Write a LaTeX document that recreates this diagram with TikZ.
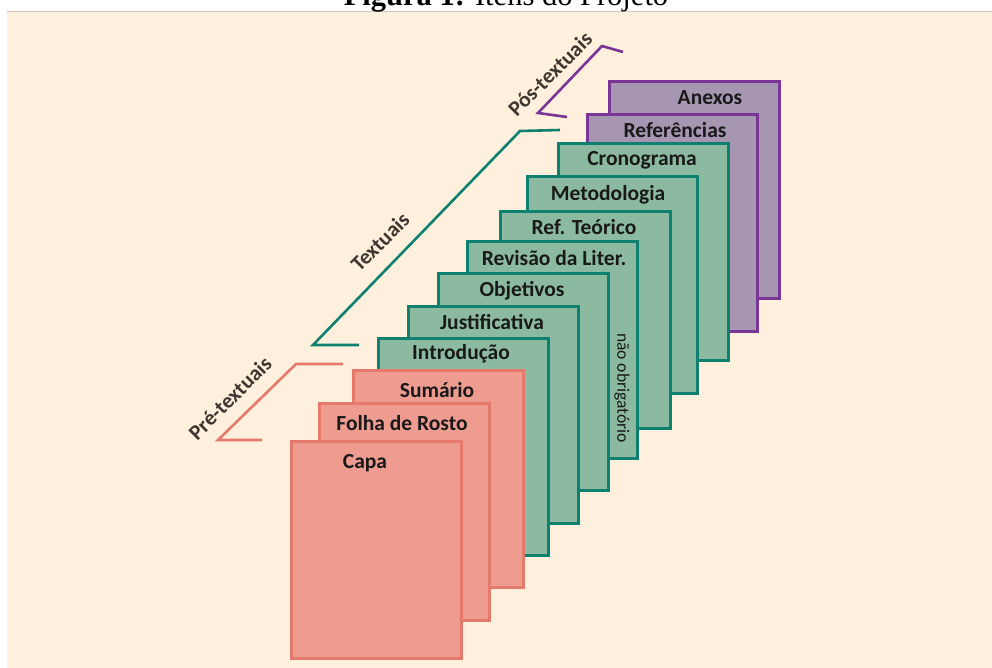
\documentclass[tikz,border=0pt]{standalone}
\usepackage{fontspec}
\setmainfont{Carlito}
\newfontfamily\titlefont{Liberation Serif}
\definecolor{bgcream}{HTML}{FEF0DC}
\definecolor{rulegrey}{HTML}{D6C6BE}
\definecolor{pinkfill}{HTML}{EF9C90}
\definecolor{pinkline}{HTML}{E4796C}
\definecolor{greenfill}{HTML}{8CBAA0}
\definecolor{greenline}{HTML}{0E8070}
\definecolor{purplefill}{HTML}{A696B2}
\definecolor{purpleline}{HTML}{7A3596}
\definecolor{labelcol}{HTML}{3E3630}
\begin{document}
\begin{tikzpicture}[x=1pt,y=-1pt,
  pg/.style={minimum width=170pt, minimum height=217pt, inner sep=0pt, line width=2.6pt, anchor=north west},
  pinkpg/.style={pg, fill=pinkfill, draw=pinkline},
  greenpg/.style={pg, fill=greenfill, draw=greenline},
  purplepg/.style={pg, fill=purplefill, draw=purpleline},
  lbl/.style={font=\bfseries\fontsize{21.5}{24}\selectfont, text=black!90, inner sep=0pt},
  grp/.style={font=\bfseries\fontsize{21.5}{24}\selectfont, text=labelcol, inner sep=0pt, rotate=45},
  bracket/.style={line width=2.6pt, line join=miter}
]
\useasboundingbox (0,0) rectangle (992,668);
\fill[white] (0,0) rectangle (992,668);
\fill[bgcream] (7,12) rectangle (992,668);
\draw[rulegrey, line width=1.5pt] (7,11.5) -- (992,11.5);
\node[anchor=base, inner sep=0pt, font=\titlefont\fontsize{30.5}{32}\selectfont] (title) at (506,6) {\textbf{Figura 1:} Itens do Projeto};

% pages, back to front
\node[purplepg] (anexos) at (608,80) {};
\node[purplepg] (refs) at (586,113) {};
\node[greenpg] (crono) at (557,142) {};
\node[greenpg] (metod) at (526,175) {};
\node[greenpg] (refteo) at (499,210) {};
\node[greenpg] (revisao) at (466,240) {};
\node[greenpg] (objet) at (437,272) {};
\node[greenpg] (justif) at (407,305) {};
\node[greenpg] (intro) at (377,337) {};
\node[pinkpg] (sumario) at (352,369) {};
\node[pinkpg] (folha) at (318,402) {};
\node[pinkpg] (capa) at (290,440) {};

% page titles
\node[lbl] (tanexos) at (710,98) {Anexos};
\node[lbl] (trefs) at (675,130) {Referências};
\node[lbl] (tcrono) at (642,160) {Cronograma};
\node[lbl] (tmetod) at (608,195) {Metodologia};
\node[lbl] (trefteo) at (584,227) {Ref. Teórico};
\node[lbl] (trevisao) at (554,258) {Revisão da Liter.};
\node[lbl] (tobjet) at (522,291) {Objetivos};
\node[lbl] (tjustif) at (492,322) {Justificativa};
\node[lbl] (tintro) at (461,354) {Introdução};
\node[lbl] (tsumario) at (437,390) {Sumário};
\node[lbl] (tfolha) at (402,423) {Folha de Rosto};
\node[lbl] (tcapa) at (365,463) {Capa};
\node[rotate=-90, inner sep=0pt, font=\fontsize{17.5}{19}\selectfont, text=black!90] (naoobr) at (622,388) {não obrigatório};

% group brackets
\coordinate (pre1) at (262,440);
\coordinate (pre2) at (218,440);
\coordinate (pre3) at (296,364);
\coordinate (pre4) at (343,364);
\draw[bracket, pinkline] (pre1) -- (pre2) -- (pre3) -- (pre4);
\node[grp] (tpre) at (230,398) {Pré-textuais};

\coordinate (txt1) at (359,345);
\coordinate (txt2) at (313,345);
\coordinate (txt3) at (520,131);
\coordinate (txt4) at (560,130);
\draw[bracket, greenline] (txt1) -- (txt2) -- (txt3) -- (txt4);
\node[grp] (ttxt) at (380,242) {Textuais};

\coordinate (pos1) at (567,117);
\coordinate (pos2) at (538,113);
\coordinate (pos3) at (602,46);
\coordinate (pos4) at (623,52);
\draw[bracket, purpleline] (pos1) -- (pos2) -- (pos3) -- (pos4);
\node[grp] (tpos) at (550,74) {Pós-textuais};
\end{tikzpicture}
\end{document}
